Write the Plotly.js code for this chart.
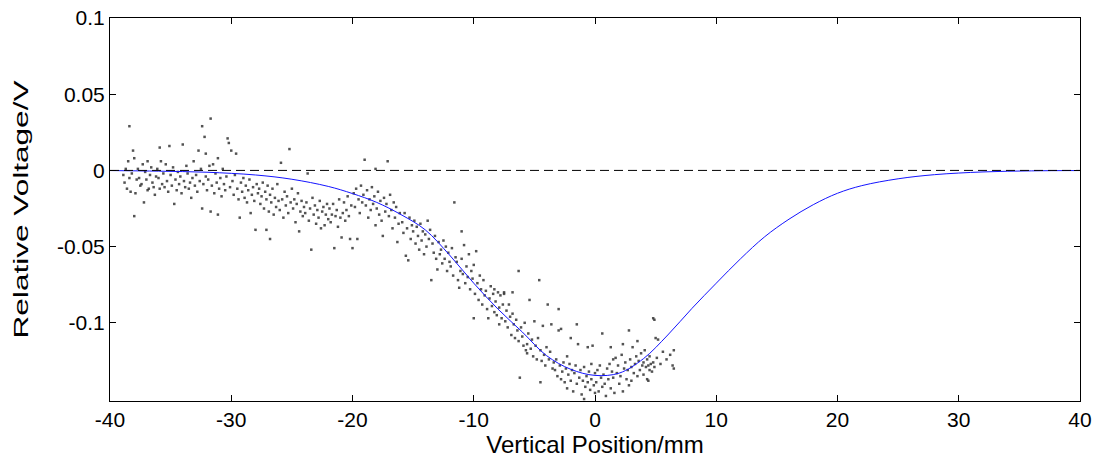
<!DOCTYPE html>
<html>
<head>
<meta charset="utf-8">
<script src="https://cdn.plot.ly/plotly-3.0.1.min.js"></script>
<style>html,body{margin:0;padding:0;background:#fff;}#chart{width:1097px;height:461px;}</style>
</head>
<body>
<div id="chart"></div>
<script>
// Fitted curve
const fitX = [-40,-36,-32,-28,-25,-22,-20,-18,-16,-14,-12,-10,-8,-6,-4,-2,0,2,4,6,8,10,12,14,16,18,20,22,25,28,32,36,40];
const fitY = [-0.0001,-0.0005,-0.0012,-0.003,-0.0058,-0.0105,-0.0152,-0.021,-0.029,-0.039,-0.0555,-0.074,-0.091,-0.106,-0.1215,-0.1305,-0.1345,-0.133,-0.1235,-0.108,-0.0905,-0.074,-0.058,-0.0435,-0.032,-0.0225,-0.015,-0.010,-0.0055,-0.0028,-0.001,-0.0003,-0.0001];

const dotX = [
-38.9,-38.8,-38.7,-38.6,-38.5,-38.4,-38.4,-38.3,-38.2,-38.1,
-38.0,-38.0,-37.9,-37.8,-37.7,-37.6,-37.5,-37.4,-37.3,-37.2,
-37.1,-37.0,-36.9,-36.9,-36.8,-36.7,-36.6,-36.5,-36.4,-36.3,
-36.2,-36.1,-36.0,-35.9,-35.9,-35.8,-35.7,-35.6,-35.5,-35.4,
-35.3,-35.2,-35.1,-35.0,-34.9,-34.8,-34.7,-34.6,-34.5,-34.4,
-34.3,-34.2,-34.1,-34.0,-33.9,-33.8,-33.7,-33.6,-33.5,-33.4,
-33.3,-33.2,-33.1,-33.0,-32.9,-32.8,-32.7,-32.6,-32.5,-32.4,
-32.4,-32.3,-32.2,-32.1,-32.1,-32.0,-31.9,-31.8,-31.7,-31.7,
-31.6,-31.5,-31.4,-31.3,-31.2,-31.1,-31.1,-31.0,-30.9,-30.8,
-30.7,-30.6,-30.5,-30.4,-30.3,-30.2,-30.1,-30.0,-29.9,-29.8,
-29.7,-29.6,-29.5,-29.4,-29.3,-29.2,-29.1,-29.0,-28.9,-28.8,
-28.7,-28.6,-28.5,-28.4,-28.3,-28.2,-28.1,-28.0,-27.9,-27.8,
-27.7,-27.6,-27.5,-27.4,-27.3,-27.2,-27.1,-27.1,-27.0,-26.9,
-26.8,-26.8,-26.7,-26.6,-26.5,-26.4,-26.3,-26.2,-26.1,-26.0,
-25.9,-25.8,-25.7,-25.6,-25.5,-25.4,-25.3,-25.2,-25.1,-25.0,
-24.9,-24.8,-24.7,-24.6,-24.5,-24.4,-24.3,-24.2,-24.1,-24.0,
-23.9,-23.8,-23.7,-23.6,-23.5,-23.4,-23.3,-23.2,-23.1,-23.0,
-22.9,-22.8,-22.7,-22.6,-22.5,-22.4,-22.3,-22.2,-22.1,-22.0,
-21.9,-21.8,-21.7,-21.6,-21.5,-21.4,-21.3,-21.2,-21.1,-21.0,
-20.9,-20.8,-20.7,-20.6,-20.5,-20.4,-20.3,-20.2,-20.1,-20.0,
-19.9,-19.8,-19.7,-19.6,-19.5,-19.4,-19.3,-19.2,-19.1,-19.0,
-18.9,-18.8,-18.7,-18.6,-18.5,-18.4,-18.3,-18.2,-18.1,-18.1,
-18.0,-17.9,-17.8,-17.7,-17.6,-17.5,-17.4,-17.3,-17.2,-17.1,
-17.0,-16.9,-16.8,-16.7,-16.6,-16.5,-16.4,-16.3,-16.2,-16.1,
-15.9,-15.8,-15.7,-15.6,-15.5,-15.4,-15.3,-15.2,-15.1,-15.0,
-14.9,-14.8,-14.7,-14.6,-14.5,-14.4,-14.3,-14.2,-14.1,-14.0,
-13.9,-13.8,-13.7,-13.6,-13.5,-13.4,-13.3,-13.2,-13.1,-13.0,
-12.9,-12.8,-12.7,-12.6,-12.5,-12.4,-12.3,-12.2,-12.1,-12.0,
-11.9,-11.8,-11.7,-11.6,-11.5,
-11.4,-11.3,-11.2,-11.1,-11.0,-11.0,-10.9,-10.8,-10.7,-10.6,
-10.5,-10.4,-10.3,-10.2,-10.1,-10.0,-10.0,-9.9,-9.8,-9.7,
-9.6,-9.5,-9.4,-9.3,-9.2,-9.1,-9.0,-8.9,-8.8,-8.7,
-8.6,-8.5,-8.4,-8.3,-8.3,-8.2,-8.1,-8.0,-7.9,-7.9,
-7.8,-7.7,-7.6,-7.5,-7.5,
-7.4,-7.3,-7.2,-7.1,-7.0,-6.9,-6.8,-6.8,-6.7,-6.6,
-6.5,-6.4,-6.3,-6.3,-6.2,-6.1,-6.0,-5.9,-5.8,-5.7,
-5.6,-5.6,-5.5,-5.4,-5.3,-5.2,-5.1,-5.0,-4.9,-4.8,
-4.7,-4.6,-4.5,-4.5,-4.4,-4.3,-4.2,-4.1,-4.0,-3.9,
-3.8,-3.7,-3.6,-3.5,-3.4,
-3.3,-3.2,-3.1,-3.0,-3.0,-2.9,-2.8,-2.8,-2.7,-2.6,
-2.5,-2.4,-2.3,-2.3,-2.2,-2.1,-2.0,-2.0,-1.9,-1.8,
-1.7,-1.7,-1.6,-1.5,-1.5,-1.4,-1.3,-1.2,-1.1,-1.1,
-1.0,-0.9,-0.9,-0.8,-0.7,-0.6,-0.6,-0.5,-0.4,-0.3,
-0.3,-0.2,-0.1,0.0,0.0,
0.1,0.2,0.3,0.4,0.5,0.6,0.6,0.7,0.8,0.9,
1.0,1.0,1.1,1.2,1.3,1.3,1.4,1.5,1.5,1.6,
1.7,1.8,1.9,2.0,2.1,2.2,2.3,2.3,2.3,2.4,
2.5,2.6,2.6,2.7,2.8,2.8,2.9,3.0,3.0,3.1,
3.2,3.3,3.4,3.5,3.5,
3.6,3.7,3.8,3.9,4.0,4.0,4.1,4.2,4.3,4.3,
4.4,4.4,4.5,4.5,4.6,4.7,4.8,4.8,4.9,4.9,
5.0,5.1,5.2,5.4,5.6,5.9,6.2,6.4,6.5,6.5
];
const dotY = [
-0.003,-0.008,0.001,-0.012,0.006,0.029,-0.005,-0.014,-0.002,0.013,
0.008,-0.030,-0.015,-0.006,0.001,-0.005,-0.010,-0.009,0.004,-0.021,
-0.001,-0.006,0.006,-0.013,-0.012,-0.003,0.002,-0.008,-0.011,-0.016,
-0.004,0.001,-0.005,0.015,-0.012,0.006,-0.009,-0.002,-0.011,0.004,
-0.007,-0.014,0.016,-0.003,-0.010,0.002,-0.022,-0.006,-0.013,-0.001,
-0.009,-0.004,-0.015,0.017,-0.007,-0.011,0.003,-0.002,-0.012,-0.008,
-0.018,-0.005,0.006,-0.010,-0.003,-0.014,0.013,-0.007,0.001,0.029,
-0.025,-0.009,0.022,0.011,-0.004,-0.013,-0.006,0.003,0.034,-0.027,
-0.010,0.004,-0.015,-0.002,-0.008,0.008,-0.029,-0.012,-0.005,-0.017,
0.001,-0.009,-0.013,-0.004,0.021,0.018,-0.011,0.013,-0.007,-0.016,
-0.003,0.011,-0.012,-0.019,-0.031,-0.008,-0.014,-0.005,-0.018,-0.010,
-0.021,-0.013,-0.006,-0.028,-0.016,-0.011,-0.020,-0.039,-0.009,-0.015,
-0.012,-0.022,-0.017,-0.008,-0.025,-0.014,-0.039,-0.019,-0.010,-0.027,
-0.045,-0.016,-0.021,-0.012,-0.029,-0.018,-0.024,-0.009,-0.020,-0.026,
0.005,-0.019,-0.031,-0.014,-0.023,-0.017,-0.028,0.014,-0.021,-0.012,
-0.025,-0.019,-0.034,-0.022,-0.015,-0.040,-0.027,-0.020,-0.030,-0.024,
-0.028,-0.021,-0.002,-0.033,-0.025,-0.052,-0.018,-0.029,-0.023,-0.035,
-0.026,-0.031,-0.020,-0.038,-0.027,-0.024,-0.036,-0.029,-0.022,-0.032,
-0.025,-0.034,-0.029,-0.022,-0.051,-0.030,-0.026,-0.037,-0.019,-0.031,
-0.044,-0.028,-0.021,-0.033,-0.026,-0.017,-0.030,-0.045,-0.023,-0.051,
-0.015,-0.024,-0.012,-0.045,-0.019,-0.028,-0.010,-0.021,-0.016,0.007,
-0.023,-0.013,-0.031,-0.019,-0.026,-0.011,-0.022,-0.017,-0.036,0.001,
-0.025,-0.014,-0.029,-0.020,-0.033,-0.043,-0.018,-0.027,-0.022,0.006,
-0.030,-0.016,-0.026,-0.038,-0.021,-0.031,-0.024,-0.047,-0.035,-0.028,
-0.034,-0.041,-0.028,-0.056,-0.038,-0.059,-0.031,-0.045,-0.036,-0.040,
-0.033,-0.048,-0.037,-0.043,-0.052,-0.035,-0.046,-0.040,-0.055,-0.042,
-0.050,-0.033,-0.045,-0.039,-0.072,-0.048,-0.054,-0.043,-0.058,-0.065,
-0.047,-0.055,-0.052,-0.061,-0.046,-0.058,-0.050,-0.066,-0.054,-0.060,
-0.063,-0.051,-0.069,-0.021,-0.057,
-0.060,-0.072,-0.077,-0.066,-0.040,-0.058,-0.068,-0.049,-0.074,-0.063,
-0.070,-0.055,-0.078,-0.066,-0.071,-0.097,-0.062,-0.081,-0.053,-0.074,
-0.085,-0.069,-0.078,-0.088,-0.072,-0.082,-0.079,-0.091,-0.097,-0.084,
-0.076,-0.089,-0.081,-0.078,-0.093,-0.086,-0.095,-0.080,-0.090,-0.101,
-0.082,-0.097,-0.088,-0.081,-0.080,
-0.099,-0.092,-0.103,-0.088,-0.096,-0.108,-0.080,-0.094,-0.101,-0.110,
-0.098,-0.105,-0.066,-0.112,-0.136,-0.103,-0.109,-0.115,-0.100,-0.118,
-0.114,-0.120,-0.107,-0.085,-0.117,-0.111,-0.122,-0.099,-0.115,-0.124,
-0.110,-0.072,-0.139,-0.118,-0.125,-0.102,-0.121,-0.128,-0.116,-0.088,
-0.124,-0.119,-0.101,-0.130,-0.126,
-0.131,-0.124,-0.135,-0.091,-0.105,-0.128,-0.104,-0.137,-0.132,-0.126,
-0.139,-0.130,-0.122,-0.143,-0.134,-0.127,-0.110,-0.138,-0.131,-0.145,
-0.133,-0.156,-0.128,-0.101,-0.140,-0.114,-0.136,-0.131,-0.147,-0.166,
-0.138,-0.150,-0.129,-0.142,-0.135,-0.116,-0.139,-0.132,-0.144,-0.127,
-0.137,-0.115,-0.141,-0.133,-0.146,
-0.139,-0.131,-0.145,-0.128,-0.136,-0.107,-0.142,-0.134,-0.140,-0.148,
-0.130,-0.155,-0.137,-0.127,-0.116,-0.143,-0.132,-0.136,-0.124,-0.146,
-0.123,-0.133,-0.128,-0.140,-0.135,-0.121,-0.114,-0.145,-0.158,-0.130,
-0.126,-0.175,-0.137,-0.131,-0.105,-0.141,-0.124,-0.138,-0.129,-0.116,
-0.133,-0.127,-0.122,-0.112,-0.135,
-0.125,-0.131,-0.120,-0.128,-0.126,-0.134,-0.118,-0.129,-0.137,-0.124,
-0.128,-0.138,-0.131,-0.122,-0.127,-0.132,-0.097,-0.126,-0.129,-0.098,
-0.110,-0.123,-0.111,-0.127,-0.119,-0.124,-0.121,-0.128,-0.118,-0.130
];

const xTicks = [-40,-30,-20,-10,0,10,20,30,40];
const yTicks = [-0.1,-0.05,0,0.05,0.1];
const yTickText = ['-0.1','-0.05','0','0.05','0.1'];

const FONT = 'Liberation Sans, Arial, sans-serif';

const traces = [
  {
    x: dotX, y: dotY, type: 'scatter', mode: 'markers',
    marker: {size: 2.5, color: 'rgba(40,40,40,0.8)', symbol: 'square', line: {width: 0}},
    cliponaxis: false, hoverinfo: 'skip', showlegend: false
  },
  {
    x: fitX, y: fitY, type: 'scatter', mode: 'lines',
    line: {color: '#1414ff', width: 1, shape: 'spline', smoothing: 1},
    hoverinfo: 'skip', showlegend: false
  }
];

const layout = {
  width: 1097, height: 461,
  margin: {l: 110, r: 17, t: 18, b: 60, pad: 0},
  paper_bgcolor: '#fff', plot_bgcolor: '#fff',
  font: {family: FONT, color: '#000', size: 21},
  showlegend: false,
  xaxis: {
    range: [-40, 40], tickvals: xTicks, ticktext: xTicks.map(String),
    ticks: 'inside', ticklen: 6, tickwidth: 1, tickcolor: '#000',
    showline: true, linecolor: '#000', linewidth: 1, mirror: 'ticks',
    showgrid: false, zeroline: false,
    tickfont: {family: FONT, size: 21, color: '#000'},
    title: {text: 'Vertical Position/mm', font: {family: FONT, size: 24, color: '#000'}, standoff: 0},
    automargin: false
  },
  yaxis: {
    range: [-0.1513, 0.1], tickvals: yTicks, ticktext: yTickText,
    ticks: 'inside', ticklen: 6, tickwidth: 1, tickcolor: '#000',
    showline: true, linecolor: '#000', linewidth: 1, mirror: 'ticks',
    showgrid: false, zeroline: false,
    tickfont: {family: FONT, size: 21, color: '#000'},
    title: {text: 'Relative Voltage/V', font: {family: FONT, size: 21, color: '#000'}, standoff: 22},
    automargin: false
  },
  shapes: [
    {type: 'line', xref: 'x', yref: 'y', x0: -40, x1: 40, y0: 0, y1: 0,
     line: {color: '#000', width: 1, dash: '9px,5px'}}
  ]
};

Plotly.newPlot('chart', traces, layout, {staticPlot: true, displayModeBar: false}).then(function (gd) {
  // the reference label is drawn stretched along its length
  const yt = gd.querySelector('.ytitle');
  if (yt) {
    yt.setAttribute('textLength', '258');
    yt.setAttribute('lengthAdjust', 'spacingAndGlyphs');
  }
});
</script>
</body>
</html>
